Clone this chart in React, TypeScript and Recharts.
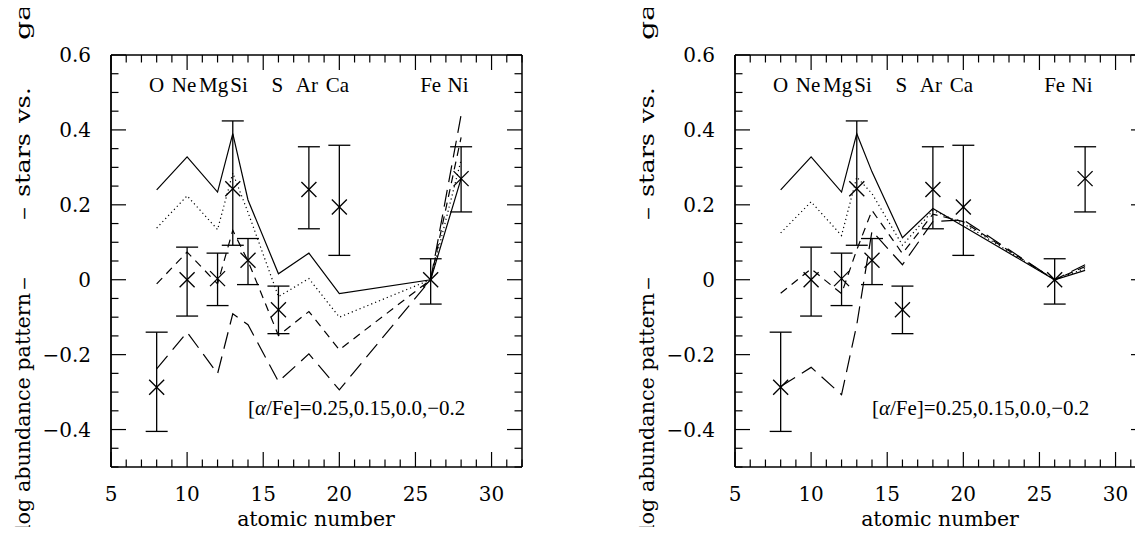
import React from 'react';
import { ComposedChart, Line, Scatter, XAxis, YAxis, ErrorBar } from 'recharts';

// ---- axes ----
const xTicks = [5, 6, 7, 8, 9, 10, 11, 12, 13, 14, 15, 16, 17, 18, 19, 20, 21, 22, 23, 24, 25, 26, 27, 28, 29, 30, 31, 32];
const xMajor = [5, 10, 15, 20, 25, 30];
const yTicks = [-0.5, -0.45, -0.4, -0.35, -0.3, -0.25, -0.2, -0.15, -0.1, -0.05, 0, 0.05, 0.1, 0.15, 0.2, 0.25, 0.3, 0.35, 0.4, 0.45, 0.5, 0.55, 0.6];
const yMajor = [-0.4, -0.2, 0, 0.2, 0.4, 0.6];
const yMajorLabels = ['\u22120.4', '\u22120.2', '0', '0.2', '0.4', '0.6'];

// ---- element labels ----
const elemZ = [8, 10, 12, 14, 16, 18, 20, 26, 28];
const elemNames = ['O', 'Ne', 'Mg', 'Si', 'S', 'Ar', 'Ca', 'Fe', 'Ni'];
const ELEM_LABEL_Y = 0.5;
const ALPHA_LABEL_Z = 14;
const ALPHA_LABEL_Y = -0.36;
// small horizontal nudges (px) of the element labels, as typeset in the original
const elemLabelDx = [0, -3, -4, -9, -1, -2, -2, 0, -3];

// ---- observations (stars vs gas) ----
const obsZ = [8, 10, 12, 13, 14, 16, 18, 20, 26, 28];
const obsVal = [-0.287, 0, 0.003, 0.243, 0.052, -0.08, 0.241, 0.194, 0, 0.27];
const obsHi = [-0.14, 0.087, 0.071, 0.424, 0.11, -0.017, 0.355, 0.359, 0.056, 0.355];
const obsLo = [-0.405, -0.097, -0.069, 0.092, -0.013, -0.144, 0.136, 0.065, -0.065, 0.181];

// ---- models, [alpha/Fe] = 0.25, 0.15, 0.0, -0.2 ----
const modelZ = [8, 10, 12, 13, 14, 16, 18, 20, 26, 28];
const leftA025 = [0.24, 0.328, 0.234, 0.39, 0.213, 0.016, 0.071, -0.037, 0, 0.27];
const leftA015 = [0.138, 0.224, 0.134, 0.285, 0.18, -0.045, 0.003, -0.1, 0, 0.32];
const leftA000 = [-0.011, 0.074, -0.011, 0.132, 0.05, -0.149, -0.085, -0.187, 0, 0.38];
const leftAm02 = [-0.238, -0.14, -0.251, -0.091, -0.12, -0.272, -0.198, -0.294, 0, 0.44];

const rightA025 = [0.24, 0.328, 0.234, 0.39, 0.288, 0.112, 0.19, 0.1425, 0, 0.025];
const rightA015 = [0.125, 0.208, 0.118, 0.274, 0.23, 0.092, 0.185, 0.15, 0, 0.03];
const rightA000 = [-0.036, 0.029, -0.037, 0.08, 0.185, 0.07, 0.175, 0.155, 0, 0.035];
const rightAm02 = [-0.285, -0.234, -0.307, -0.12, 0.13, 0.04, 0.155, 0.16, 0, 0.04];

const FONT = '"DejaVu Serif", serif';
const LABEL_FONT = '"Liberation Serif", serif';
const MAJ = 15;
const MIN = 7.5;
const TICK_W = 1.2;

const isXMajor = (v: number) => xMajor.includes(v);
const yMajorIndex = (v: number) => yMajor.findIndex((m) => Math.abs(m - v) < 1e-6);

const BottomTick = (p: any) => {
  const { x, y, payload } = p;
  const v = payload.value;
  const maj = isXMajor(v);
  return (
    <g>
      <line x1={x} x2={x} y1={y} y2={y - (maj ? MAJ : MIN)} stroke="#000" strokeWidth={TICK_W} />
      {maj && (
        <text x={x} y={y + 34} textAnchor="middle" fontFamily={FONT} fontSize={20} fill="#000">
          {String(v)}
        </text>
      )}
    </g>
  );
};

const TopTick = (p: any) => {
  const { x, y, payload } = p;
  const maj = isXMajor(payload.value);
  return <line x1={x} x2={x} y1={y} y2={y + (maj ? MAJ : MIN)} stroke="#000" strokeWidth={TICK_W} />;
};

const LeftTick = (p: any) => {
  const { x, y, payload } = p;
  const i = yMajorIndex(payload.value);
  const maj = i >= 0;
  return (
    <g>
      <line x1={x} x2={x + (maj ? MAJ : MIN)} y1={y} y2={y} stroke="#000" strokeWidth={TICK_W} />
      {maj && (
        <text x={x - 20} y={y + 7} textAnchor="end" fontFamily={FONT} fontSize={20} fill="#000">
          {yMajorLabels[i]}
        </text>
      )}
    </g>
  );
};

const RightTick = (p: any) => {
  const { x, y, payload } = p;
  const maj = yMajorIndex(payload.value) >= 0;
  return <line x1={x} x2={x - (maj ? MAJ : MIN)} y1={y} y2={y} stroke="#000" strokeWidth={TICK_W} />;
};

const Cross = (p: any) => {
  const { cx, cy } = p;
  const s = 7.5;
  return (
    <g stroke="#000" strokeWidth={1.3}>
      <line x1={cx - s} y1={cy - s} x2={cx + s} y2={cy + s} />
      <line x1={cx - s} y1={cy + s} x2={cx + s} y2={cy - s} />
    </g>
  );
};

const ElemLabel = (p: any) => (
  <text x={p.cx} y={p.cy} dx={p.payload.dx} textAnchor="middle" fontFamily={LABEL_FONT} fontSize={21} fill="#000">
    {p.payload.name}
  </text>
);

const AlphaLabel = (p: any) => (
  <text x={p.cx} y={p.cy} textAnchor="start" fontFamily={LABEL_FONT} fontSize={21} fill="#000">
    [<tspan fontStyle="italic">α</tspan>/Fe]=0.25,0.15,0.0,{'\u2212'}0.2
  </text>
);

const obsRows = obsZ.map((z, i) => ({ z, y: obsVal[i], err: [obsVal[i] - obsLo[i], obsHi[i] - obsVal[i]] }));
const elemRows = elemZ.map((z, i) => ({ z, y: ELEM_LABEL_Y, name: elemNames[i], dx: elemLabelDx[i] }));
const alphaRows = [{ z: ALPHA_LABEL_Z, y: ALPHA_LABEL_Y }];

const W = 560;
const H = 535;
// plot area: x 111..522, y 55..467 (axes take 1px each)
const MARGIN = { top: 54, right: 37, bottom: 67, left: 110 };

function Panel({ a025, a015, a000, am02 }: { a025: number[]; a015: number[]; a000: number[]; am02: number[] }) {
  const rows = modelZ.map((z, i) => ({ z, a: a025[i], b: a015[i], c: a000[i], d: am02[i] }));
  return (
    <ComposedChart width={W} height={H} data={rows} margin={MARGIN}>
      <XAxis
        xAxisId="b"
        dataKey="z"
        type="number"
        domain={[5, 32]}
        allowDataOverflow
        ticks={xTicks}
        interval={0}
        height={1}
        tickSize={0}
        tickMargin={0}
        tick={BottomTick}
        axisLine={{ stroke: '#000', strokeWidth: 1.5 }}
        tickLine={false}
      />
      <XAxis
        xAxisId="t"
        orientation="top"
        dataKey="z"
        type="number"
        domain={[5, 32]}
        allowDataOverflow
        ticks={xTicks}
        interval={0}
        height={1}
        tickSize={0}
        tickMargin={0}
        tick={TopTick}
        axisLine={{ stroke: '#000', strokeWidth: 1.5 }}
        tickLine={false}
      />
      <YAxis
        yAxisId="l"
        type="number"
        domain={[-0.5, 0.6]}
        allowDataOverflow
        ticks={yTicks}
        interval={0}
        width={1}
        tickSize={0}
        tickMargin={0}
        tick={LeftTick}
        axisLine={{ stroke: '#000', strokeWidth: 1.8 }}
        tickLine={false}
      />
      <YAxis
        yAxisId="r"
        orientation="right"
        type="number"
        domain={[-0.5, 0.6]}
        allowDataOverflow
        ticks={yTicks}
        interval={0}
        width={1}
        tickSize={0}
        tickMargin={0}
        tick={RightTick}
        axisLine={{ stroke: '#000', strokeWidth: 1.5 }}
        tickLine={false}
      />
      <Line xAxisId="b" yAxisId="l" dataKey="a" type="linear" stroke="#000" strokeWidth={1.2} dot={false} activeDot={false} isAnimationActive={false} />
      <Line xAxisId="b" yAxisId="l" dataKey="b" type="linear" stroke="#000" strokeWidth={1.2} strokeDasharray="1.2 3" dot={false} activeDot={false} isAnimationActive={false} />
      <Line xAxisId="b" yAxisId="l" dataKey="c" type="linear" stroke="#000" strokeWidth={1.2} strokeDasharray="8 6" dot={false} activeDot={false} isAnimationActive={false} />
      <Line xAxisId="b" yAxisId="l" dataKey="d" type="linear" stroke="#000" strokeWidth={1.2} strokeDasharray="17 8" dot={false} activeDot={false} isAnimationActive={false} />
      <Scatter xAxisId="b" yAxisId="l" data={obsRows} dataKey="y" shape={Cross} isAnimationActive={false}>
        <ErrorBar dataKey="err" direction="y" width={11} stroke="#000" strokeWidth={1.3} isAnimationActive={false} />
      </Scatter>
      <Scatter xAxisId="b" yAxisId="l" data={elemRows} dataKey="y" shape={ElemLabel} isAnimationActive={false} />
      <Scatter xAxisId="b" yAxisId="l" data={alphaRows} dataKey="y" shape={AlphaLabel} isAnimationActive={false} />
    </ComposedChart>
  );
}

// y-axis title, typeset piecewise along the rotated baseline (distance measured upward from y=531)
const Titles = () => (
  <svg width={W} height={H} style={{ position: 'absolute', left: 0, top: 0, pointerEvents: 'none' }}>
    <g transform="translate(30 531) rotate(-90)" fontFamily={FONT} fontSize={21} fill="#000">
      <text x={0} y={0} textLength={238} lengthAdjust="spacingAndGlyphs">log abundance pattern</text>
      <text x={241} y={0} textLength={13} lengthAdjust="spacingAndGlyphs">{'\u2013'}</text>
      <text x={311} y={0} textLength={13} lengthAdjust="spacingAndGlyphs">{'\u2013'}</text>
      <text x={334} y={0} textLength={64} lengthAdjust="spacingAndGlyphs">stars</text>
      <text x={408} y={0} textLength={36} lengthAdjust="spacingAndGlyphs">vs.</text>
      <text x={491} y={0} textLength={52} lengthAdjust="spacingAndGlyphs">gas</text>
    </g>
    <text x={316} y={526} textAnchor="middle" fontFamily={FONT} fontSize={20.5} fill="#000">
      atomic number
    </text>
  </svg>
);

export default function App() {
  return (
    <div style={{ position: 'relative', width: 1143, height: 535, overflow: 'hidden', margin: -8, background: '#fff' }}>
      <div style={{ position: 'absolute', left: 0, top: 0, width: W, height: H }}>
        <Panel a025={leftA025} a015={leftA015} a000={leftA000} am02={leftAm02} />
        <Titles />
      </div>
      <div style={{ position: 'absolute', left: 624, top: 0, width: W, height: H }}>
        <Panel a025={rightA025} a015={rightA015} a000={rightA000} am02={rightAm02} />
        <Titles />
      </div>
    </div>
  );
}
